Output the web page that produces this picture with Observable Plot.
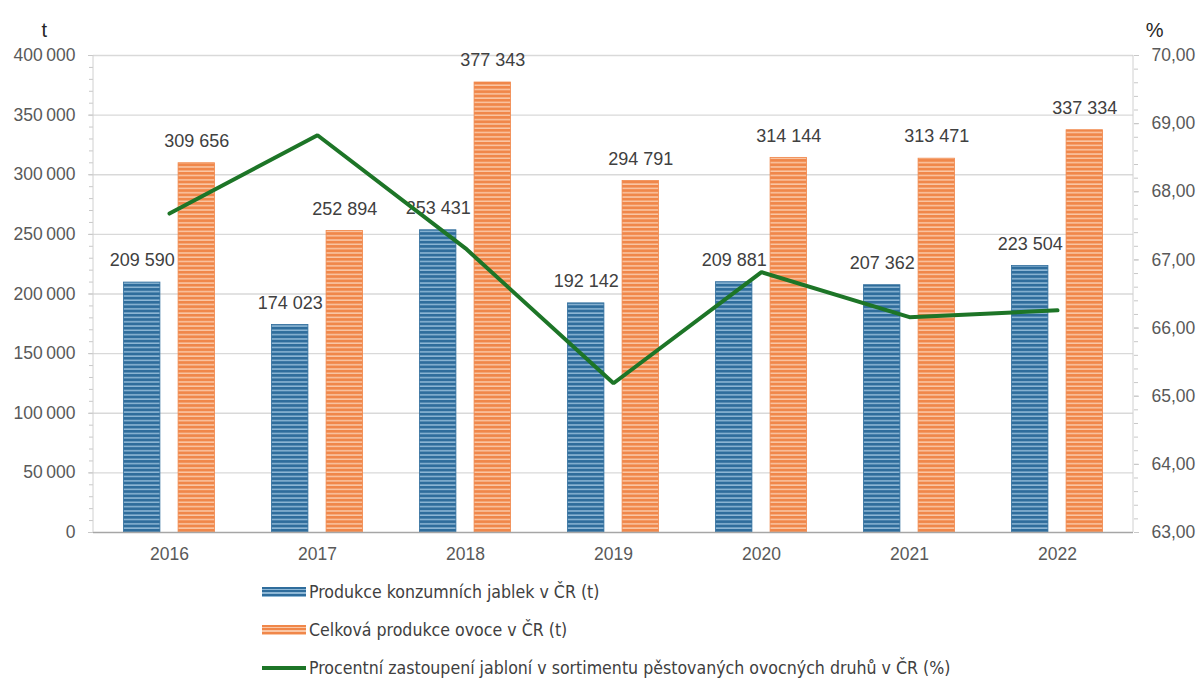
<!DOCTYPE html>
<html><head><meta charset="utf-8">
<script src="https://cdn.jsdelivr.net/npm/d3@7"></script>
<script src="https://cdn.jsdelivr.net/npm/@observablehq/plot@0.6"></script>
<style>
body{margin:0;background:#fff;font-family:"Liberation Sans",Arial,sans-serif;position:relative;width:1199px;height:679px;overflow:hidden;}
#chart{position:absolute;left:0;top:0;}
.leg{position:absolute;left:262px;height:20px;display:flex;align-items:center;font-family:"Liberation Sans Narrow","DejaVu Sans Condensed","Liberation Sans",sans-serif;font-size:17.6px;color:#404040;white-space:nowrap;}
.sw{width:44px;height:10px;margin-right:3px;}
</style></head><body><div id="chart"></div>
<div id="legend"></div>
<script>
const years = ["2016","2017","2018","2019","2020","2021","2022"];
const apples = [209590,174023,253431,192142,209881,207362,223504];
const fruit = [309656,252894,377343,294791,314144,313471,337334];
const share = [67.68,68.83,67.17,65.19,66.82,66.16,66.26];
const leftTicks = [0,50000,100000,150000,200000,250000,300000,350000,400000];
const rightTicks = [63,64,65,66,67,68,69,70];
const seriesNames = ["Produkce konzumních jablek v ČR (t)","Celková produkce ovoce v ČR (t)","Procentní zastoupení jabloní v sortimentu pěstovaných ovocných druhů v ČR (%)"];
const colors = {blue:"#2f6d9c", blueLight:"#8fb8d6", orange:"#f0874a", orangeLight:"#fac7a6", green:"#1d7527"};

const data = years.map((y,i)=>({year:y, apples:apples[i], fruit:fruit[i], share:share[i]}));
const pMin = 63, pMax = 70, yMax = 400000;
const toT = p => (p - pMin) / (pMax - pMin) * yMax;

const loc = d3.formatLocale({decimal:",", thousands:"\u2009", grouping:[3], currency:["",""]});
const fmtT = loc.format(",d");
const fmtLab = d3.formatLocale({decimal:",", thousands:" ", grouping:[3], currency:["",""]}).format(",d");
const fmtP = loc.format(".2f");

const W = 1199, H = 572, mL = 93, mR = 66, mT = 55, mB = H - 532;
const band = (W - mL - mR) / years.length;
const off = 27.3, bw = 37;
const bC = band/2 - off, oC = band/2 + off;

const minorLeft = d3.range(0, yMax + 1, 10000);
const minorRight = d3.range(0, 36).map(k => toT(63 + k*0.2));

const plot = Plot.plot({
  width: W, height: H,
  marginLeft: mL, marginRight: mR, marginTop: mT, marginBottom: mB,
  style: {fontFamily: "'Liberation Sans', Arial, sans-serif", fontSize: "17px", color: "#595959", background: "#fff"},
  x: {type: "band", domain: years, padding: 0, label: null},
  y: {domain: [0, yMax], label: null},
  marks: [
    Plot.ruleY(leftTicks.slice(1), {stroke: "#d9d9d9", strokeWidth: 1.3}),
    Plot.barY(data, {x: "year", y: "apples", fill: "url(#pBlue)", stroke: colors.blue, strokeWidth: 0.8,
      insetLeft: bC - bw/2, insetRight: band - (bC + bw/2)}),
    Plot.barY(data, {x: "year", y: "fruit", fill: "url(#pOrange)", stroke: colors.orange, strokeWidth: 0.8,
      insetLeft: oC - bw/2, insetRight: band - (oC + bw/2)}),
    Plot.text(data, {x: "year", y: "apples", text: d => fmtLab(d.apples), dx: -off, dy: -22, fontSize: 18, fill: "#404040"}),
    Plot.text(data, {x: "year", y: "fruit", text: d => fmtLab(d.fruit), dx: off, dy: -22, fontSize: 18, fill: "#404040"}),
    Plot.line(data, {x: "year", y: d => toT(d.share), stroke: colors.green, strokeWidth: 4, strokeLinejoin: "miter"}),
    Plot.ruleY([0], {stroke: "#a6a6a6", strokeWidth: 1.5}),
    Plot.axisY(leftTicks, {anchor: "left", tickSize: 5, tickPadding: 13, tickFormat: fmtT, stroke: "#c8c8c8", fill: "#595959", fontSize: 17.5}),
    Plot.axisY(minorLeft, {anchor: "left", tickSize: 4, tickFormat: () => "", stroke: "#c8c8c8"}),
    Plot.axisY(rightTicks.map(toT), {anchor: "right", tickSize: 5, tickPadding: 13, tickFormat: v => fmtP(pMin + v / yMax * (pMax - pMin)), stroke: "#c8c8c8", fill: "#595959", fontSize: 17.5}),
    Plot.axisY(minorRight, {anchor: "right", tickSize: 4, tickFormat: () => "", stroke: "#c8c8c8"}),
    Plot.axisX({tickSize: 0, tickPadding: 15, fill: "#595959", fontSize: 17.5}),
    Plot.text(["t"], {frameAnchor: "top-left", dx: -52, dy: -33, fontSize: 20, fill: "#262626"}),
    Plot.text(["%"], {frameAnchor: "top-right", dx: 30, dy: -33, fontSize: 20, fill: "#262626"})
  ]
});

// stripe patterns
const svg = d3.select(plot);
const defs = svg.insert("defs", ":first-child");
function stripe(id, base, light){
  const p = defs.append("pattern").attr("id", id).attr("patternUnits","userSpaceOnUse").attr("width", 8).attr("height", 4.3);
  p.append("rect").attr("width", 8).attr("height", 4.3).attr("fill", base);
  p.append("rect").attr("y", 2.8).attr("width", 8).attr("height", 1.5).attr("fill", light);
}
stripe("pBlue", colors.blue, colors.blueLight);
stripe("pOrange", colors.orange, colors.orangeLight);
// frame side lines
svg.append("line").attr("x1", W - mR).attr("x2", W - mR).attr("y1", mT).attr("y2", H - mB).attr("stroke", "#d0d0d0");
svg.append("line").attr("x1", mL).attr("x2", mL).attr("y1", mT).attr("y2", H - mB).attr("stroke", "#d0d0d0");

document.getElementById("chart").appendChild(plot);

// legend
const leg = document.getElementById("legend");
const swatches = [
  `background:repeating-linear-gradient(to bottom, ${colors.blue} 0 2px, ${colors.blueLight} 2px 3.3px);`,
  `background:repeating-linear-gradient(to bottom, ${colors.orange} 0 2px, ${colors.orangeLight} 2px 3.3px);`,
  `height:4px;background:${colors.green};`
];
const rowsY = [582, 620, 658];
seriesNames.forEach((name, i) => {
  const d = document.createElement("div");
  d.className = "leg";
  d.style.top = rowsY[i] + "px";
  d.innerHTML = `<span class="sw" style="${swatches[i]}"></span><span>${name}</span>`;
  leg.appendChild(d);
});
</script>
</body></html>
